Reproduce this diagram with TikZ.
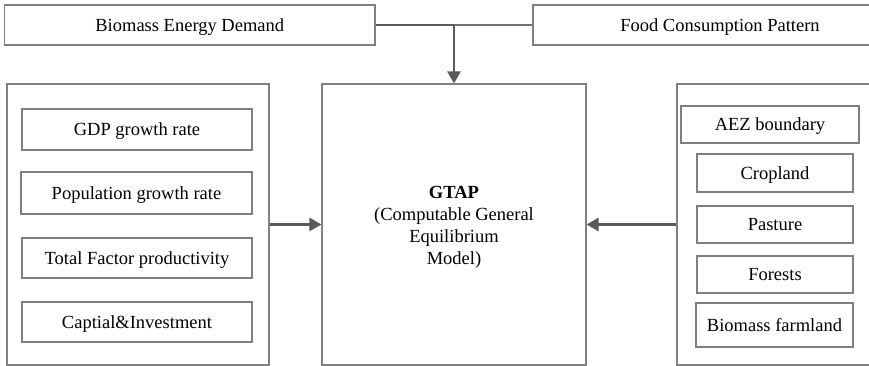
\documentclass[tikz,border=0pt]{standalone}
\usepackage{fontspec}
\setmainfont{Liberation Serif}
\usetikzlibrary{arrows.meta}
\definecolor{boxline}{HTML}{808080}
\definecolor{flowline}{HTML}{5A5A5A}
\definecolor{linklight}{HTML}{707070}
\begin{document}
\begin{tikzpicture}[x=1pt,y=1pt,
  box/.style={draw=boxline, line width=1.1pt, rectangle, inner sep=0pt,
    align=center, text height=13pt, text depth=0pt,
    font=\fontsize{18.5}{22}\selectfont},
  frame/.style={draw=boxline, line width=1.1pt, rectangle, inner sep=0pt},
  flow/.style={draw=flowline, line width=2.6pt,
    -{Triangle[width=13pt,length=12pt]}},
  link/.style={draw=flowline, line width=2.8pt}]
\useasboundingbox (0,0) rectangle (869,366);
\clip (0,0) rectangle (869,366);

% top inputs
\node[box, minimum width=370.5, minimum height=40] (bed) at (189.75,341) {Biomass Energy Demand};
\node[box, minimum width=374, minimum height=40] (fcp) at (720,341) {Food Consumption Pattern};

% three columns
\node[frame, minimum width=262, minimum height=281] (lbox) at (138,141.5) {};
\node[box, text height=, text depth=, minimum width=264, minimum height=281] (gtap) at (454,141.5)
  {\rule{0pt}{18.5pt}\textbf{GTAP}\\(Computable General\\Equilibrium\\Model)};
\node[frame, minimum width=233, minimum height=281] (rbox) at (793.5,141.5) {};

% economic drivers
\node[box, minimum width=230, minimum height=41] (gdp) at (137,236.5) {GDP growth rate};
\node[box, minimum width=231, minimum height=42] (pop) at (136.5,173) {Population growth rate};
\node[box, minimum width=230, minimum height=40] (tfp) at (137,108) {Total Factor productivity};
\node[box, minimum width=230, minimum height=40] (cap) at (137,44) {Captial\&Investment};

% land categories
\node[box, minimum width=178, minimum height=37] (aez) at (770,241.5) {AEZ boundary};
\node[box, minimum width=156, minimum height=38] (crop) at (775,193) {Cropland};
\node[box, minimum width=156, minimum height=37] (past) at (775,141.5) {Pasture};
\node[box, minimum width=156, minimum height=37] (forest) at (775,91.5) {Forests};
\node[box, minimum width=157, minimum height=44] (bfarm) at (774.5,41) {Biomass farmland};

% connectors
\coordinate (join) at (bed.east -| gtap.north);
\draw[link] (bed.east) -- (join);
\draw[link, draw=linklight, line width=2.2pt] (join) -- (fcp.west);
\draw[flow] (join) -- (gtap.north);
\draw[flow] (lbox.east) -- (gtap.west);
\draw[flow] (rbox.west) -- (gtap.east);
\end{tikzpicture}
\end{document}
